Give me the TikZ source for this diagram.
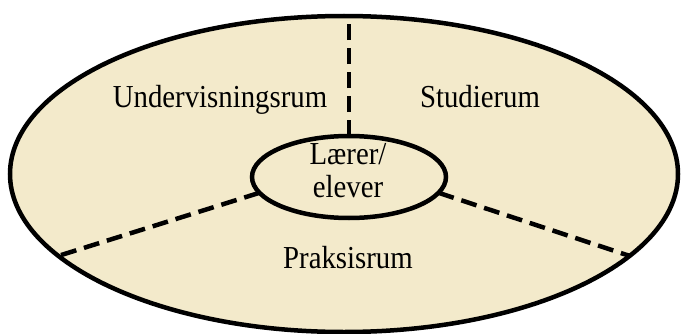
\documentclass[tikz,border=0pt]{standalone}
\usepackage{fontspec}
\setmainfont{Liberation Serif}[FakeStretch=0.9]
\usetikzlibrary{shapes.geometric}
\definecolor{beige}{RGB}{243,234,203}
\begin{document}
\begin{tikzpicture}[x=1pt,y=1pt,
  ring/.style={draw=black, line width=4.5pt, fill=beige, ellipse, inner sep=0pt, outer sep=0pt},
  divider/.style={draw=black, line width=4.5pt, dash pattern=on 16pt off 8pt},
  lab/.style={font=\fontsize{32}{33}\selectfont, inner sep=0pt}]
\useasboundingbox (0,0) rectangle (683,333);
\node[ring, minimum width=668pt, minimum height=316pt] (outer) at (344,159) {};
\node[ring, minimum width=194pt, minimum height=82pt] (inner) at (349,156) {};
\coordinate (top) at (349,317);
\draw[divider] (inner.north) -- (top);
\draw[divider] (inner.190) -- (outer.196.3);
\draw[divider] (inner.350) -- (outer.344.4);
\node[lab, anchor=base] (und) at (220,226) {Undervisningsrum};
\node[lab, anchor=base] (stu) at (480,226) {Studierum};
\node[lab, anchor=base] (pra) at (348,65) {Praksisrum};
\node[lab, align=center] (lae) at (348,162) {Lærer/\\elever};
\end{tikzpicture}
\end{document}
